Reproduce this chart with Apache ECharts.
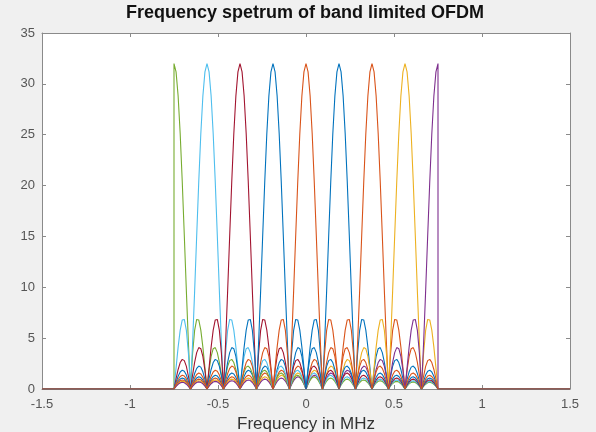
<!DOCTYPE html>
<html>
<head>
<meta charset="utf-8">
<script src="https://cdn.jsdelivr.net/npm/echarts@6/dist/echarts.min.js"></script>
<style>
  html, body { margin: 0; padding: 0; background: #f0f0f0; }
  #chart { width: 596px; height: 432px; }
</style>
</head>
<body>
<div id="chart"></div>
<script>
// subcarrier centres (MHz), in the order they were plotted
var centers = [0.1875, 0.375, 0.5625, 0.75, -0.75, -0.5625, -0.375, -0.1875, 0];
var colors = ['#0072BD', '#D95319', '#EDB120', '#7E2F8E', '#77AC30', '#4DBEEE', '#A2142F', '#0072BD', '#D95319'];

// magnitude of one subcarrier vs distance from its centre, one sample every 0.01171875 MHz
var step = 0.01171875;
var lobe = [
  32, 31.18, 28.81, 25.09, 20.37, 15.06, 9.60, 4.45,
  0, 3.46, 5.76, 6.84, 6.79, 5.79, 4.12, 2.08,
  0, 1.83, 3.20, 3.96, 4.07, 3.58, 2.62, 1.36,
  0, 1.25, 2.22, 2.79, 2.91, 2.60, 1.92, 1.01,
  0, 0.94, 1.69, 2.15, 2.26, 2.03, 1.52, 0.80,
  0, 0.76, 1.37, 1.75, 1.85, 1.67, 1.25, 0.66,
  0, 0.64, 1.15, 1.48, 1.57, 1.42, 1.07, 0.57,
  0, 0.55, 0.99, 1.28, 1.36, 1.23, 0.93, 0.49,
  0, 0.48, 0.87, 1.12, 1.20, 1.09, 0.82, 0.44,
  0, 0.43, 0.78, 1.00, 1.07, 0.98, 0.74, 0.39,
  0, 0.39, 0.70, 0.91, 0.97, 0.89, 0.67, 0.36,
  0, 0.35, 0.64, 0.83, 0.89, 0.81, 0.61, 0.33,
  0, 0.32, 0.59, 0.76, 0.81, 0.75, 0.56, 0.30,
  0, 0.30, 0.54, 0.70, 0.75, 0.69, 0.52, 0.28,
  0, 0.28, 0.51, 0.65, 0.70, 0.64, 0.49, 0.26,
  0, 0.26, 0.47, 0.61, 0.66, 0.60, 0.46, 0.25,
  0
];
var bandEdge = 0.75;
var xTicks = [-1.5, 1.5, 0.5];   // min, max, interval
var yTicks = [0, 35, 5];

function buildSeries(c) {
  var pts = [[xTicks[0], 0], [-bandEdge, 0]];
  var kmin = Math.round((-bandEdge - c) / step);
  var kmax = Math.round((bandEdge - c) / step);
  for (var k = kmin; k <= kmax; k++) {
    pts.push([c + k * step, lobe[Math.abs(k)]]);
  }
  pts.push([bandEdge, 0], [xTicks[1], 0]);
  return pts;
}

var chart = echarts.init(document.getElementById('chart'));

var series = centers.map(function (c, i) {
  return {
    type: 'line',
    data: buildSeries(c),
    showSymbol: false,
    symbol: 'none',
    lineStyle: { color: colors[i], width: 1.1 },
    animation: false
  };
});

var axisGray = '#8a8a8a';
var labelGray = '#555';
var font = 'Liberation Sans, Arial';

var option = {
  backgroundColor: '#f0f0f0',
  animation: false,
  title: {
    text: 'Frequency spetrum of band limited OFDM',
    left: 126,
    top: 2,
    padding: [2, 0, 2, 0],
    textStyle: { fontFamily: font, fontWeight: 'bold', fontSize: 18, color: '#111' }
  },
  grid: {
    left: 42, right: 26, top: 33, bottom: 43,
    outerBoundsMode: 'none',
    show: true, backgroundColor: '#fff', borderWidth: 0
  },
  xAxis: [{
    type: 'value',
    min: xTicks[0], max: xTicks[1], interval: xTicks[2],
    name: 'Frequency in MHz',
    nameLocation: 'middle',
    nameGap: 26,
    nameTextStyle: { fontFamily: font, fontSize: 17, color: '#333' },
    axisLine: { onZero: false, lineStyle: { color: axisGray } },
    axisTick: { inside: true, length: 4, lineStyle: { color: axisGray } },
    axisLabel: { fontFamily: font, fontSize: 13, color: labelGray, margin: 9 },
    splitLine: { show: false }
  }, {
    type: 'value', position: 'top',
    min: xTicks[0], max: xTicks[1], interval: xTicks[2],
    axisLine: { onZero: false, lineStyle: { color: axisGray } },
    axisTick: { inside: true, length: 4, lineStyle: { color: axisGray } },
    axisLabel: { show: false },
    splitLine: { show: false }
  }],
  yAxis: [{
    type: 'value',
    min: yTicks[0], max: yTicks[1], interval: yTicks[2],
    axisLine: { show: true, onZero: false, lineStyle: { color: axisGray } },
    axisTick: { show: true, inside: true, length: 4, lineStyle: { color: axisGray } },
    axisLabel: { fontFamily: font, fontSize: 13, color: labelGray, margin: 7 },
    splitLine: { show: false }
  }, {
    type: 'value', position: 'right',
    min: yTicks[0], max: yTicks[1], interval: yTicks[2],
    axisLine: { show: true, onZero: false, lineStyle: { color: axisGray } },
    axisTick: { show: true, inside: true, length: 4, lineStyle: { color: axisGray } },
    axisLabel: { show: false },
    splitLine: { show: false }
  }],
  series: series
};

chart.setOption(option);
</script>
</body>
</html>
